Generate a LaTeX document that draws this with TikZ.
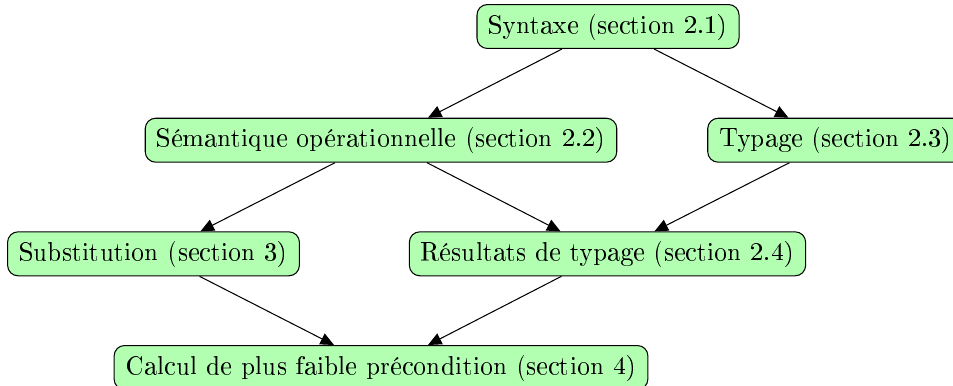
\documentclass[tikz,border=0pt]{standalone}
\usepackage[T1]{fontenc}
\usetikzlibrary{arrows.meta,calc}
\begin{document}
\begin{tikzpicture}[x=0.3846pt,y=-0.3846pt,
    box/.style={draw,fill=green!30,rounded corners=4pt,inner xsep=4.4pt,inner ysep=3.45pt},
    link/.style={-{Triangle[length=5.2pt,width=4.6pt]}}]
  \clip (0,0) rectangle (953,385);
  \node[box] (syntaxe)   at (608,26.5)   {Syntaxe (section 2.1)};
  \node[box] (semantique) at (381,140.2) {Sémantique opérationnelle (section 2.2)};
  \node[box] (typage)    at (835.5,140.2) {Typage (section 2.3)};
  \node[box] (subst)     at (153.5,253.8) {Substitution (section 3)};
  \node[box] (resultats) at (607.5,253.8) {Résultats de typage (section 2.4)};
  \node[box] (calcul)    at (381,367.5)  {Calcul de plus faible précondition (section 4)};
  \draw[link] ($(syntaxe.south)+(-46,0)$)    -- ($(semantique.north)+(47,0)$);
  \draw[link] ($(syntaxe.south)+(46,0)$)     -- ($(typage.north)+(-47,0)$);
  \draw[link] ($(semantique.south)+(-46,0)$) -- ($(subst.north)+(47,0)$);
  \draw[link] ($(semantique.south)+(46,0)$)  -- ($(resultats.north)+(-47,0)$);
  \draw[link] ($(typage.south)+(-46,0)$)     -- ($(resultats.north)+(47,0)$);
  \draw[link] ($(subst.south)+(46,0)$)       -- ($(calcul.north)+(-47,0)$);
  \draw[link] ($(resultats.south)+(-46,0)$)  -- ($(calcul.north)+(47,0)$);
\end{tikzpicture}
\end{document}
